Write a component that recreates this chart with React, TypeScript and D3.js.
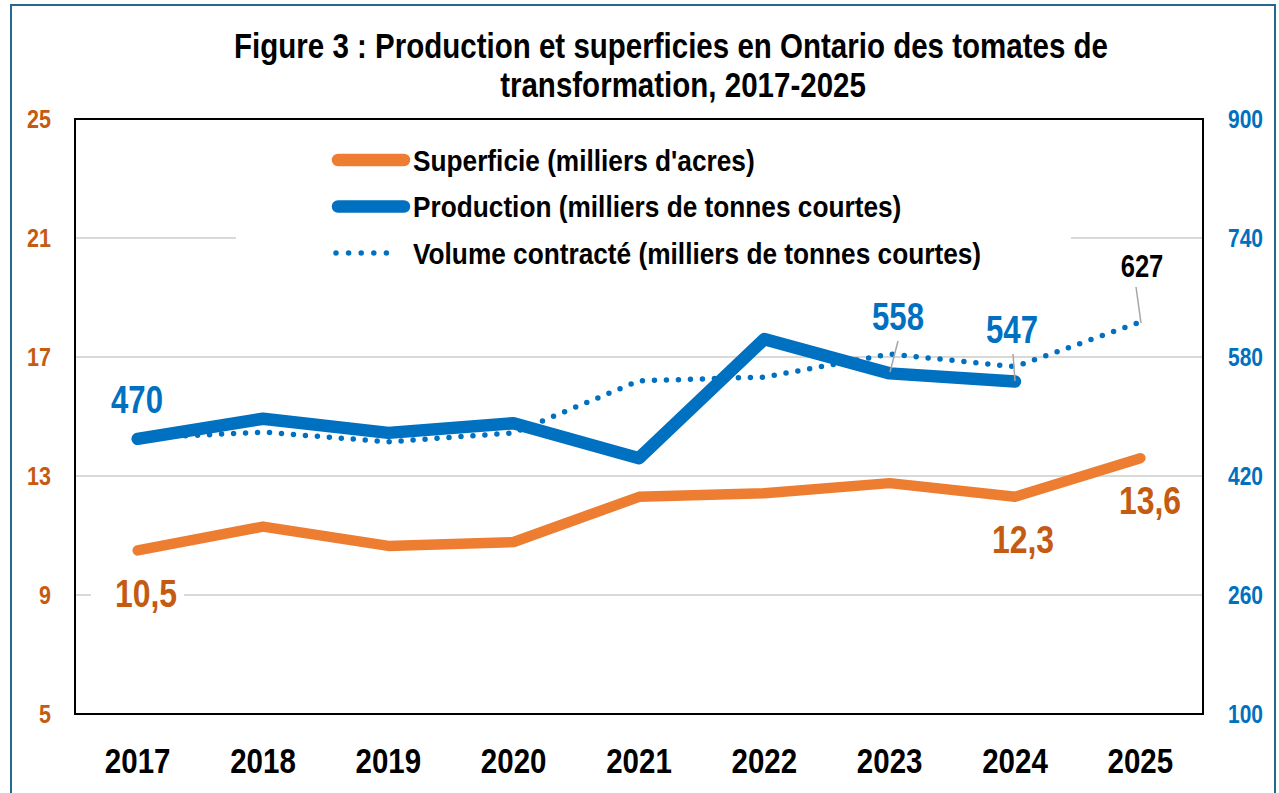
import { useEffect, useRef } from 'react';
import * as d3 from 'd3';

const years = ['2017', '2018', '2019', '2020', '2021', '2022', '2023', '2024', '2025'];
const superficie = [10.5, 11.3, 10.65, 10.78, 12.3, 12.42, 12.76, 12.3, 13.6];
const production = [470, 497, 478, 491, 444, 604, 558, 547];
const contracte = [471, 479, 466, 478, 548, 553, 584, 567, 627];
const leftTicks = [5, 9, 13, 17, 21, 25];
const rightTicks = [100, 260, 420, 580, 740, 900];

const FONT = "'Liberation Sans Narrow', 'Arial Narrow', 'Liberation Sans', Arial, sans-serif";
const ORANGE = '#ed7d31';
const ORANGE_TXT = '#c55a11';
const BLUE = '#0070c0';

export default function App() {
  const svgRef = useRef<SVGSVGElement>(null);

  useEffect(() => {
    const svg = d3.select(svgRef.current);
    svg.selectAll('*').remove();

    const left = 75, right = 1203, top = 119, bottom = 714;

    const x = d3.scaleBand().domain(years).range([left, right]);
    const cx = (d: string) => (x(d) as number) + x.bandwidth() / 2;
    const yL = d3.scaleLinear().domain([5, 25]).range([bottom, top]);
    const yR = d3.scaleLinear().domain([100, 900]).range([bottom, top]);

    // condensed bold text (the original uses a narrow face)
    const ct = (tx: number, ty: number, txt: string | number, size: number, sx: number,
      color: string, anchor = 'start', dy = '0') =>
      svg.append('text')
        .attr('transform', `translate(${tx},${ty}) scale(${sx},1)`)
        .attr('dy', dy)
        .attr('text-anchor', anchor)
        .attr('font-family', FONT).attr('font-weight', 'bold').attr('font-size', size)
        .attr('fill', color)
        .text(txt);

    // frame
    svg.append('rect')
      .attr('x', 11).attr('y', 5).attr('width', 1264).attr('height', 820)
      .attr('fill', 'white').attr('stroke', '#23698f').attr('stroke-width', 2);

    // title
    ct(671, 58, 'Figure 3 : Production et superficies en Ontario des tomates de', 36, 0.82, 'black', 'middle');
    ct(683, 97, 'transformation, 2017-2025', 36, 0.82, 'black', 'middle');

    // gridlines
    svg.append('g').selectAll('line').data(leftTicks.slice(1, -1)).enter()
      .append('line')
      .attr('x1', left).attr('x2', right)
      .attr('y1', d => yL(d)).attr('y2', d => yL(d))
      .attr('stroke', '#d9d9d9').attr('stroke-width', 2);

    // axis labels
    leftTicks.forEach(t => ct(51, yL(t), t, 25, 0.86, ORANGE_TXT, 'end', '0.36em'));
    rightTicks.forEach(t => ct(1228, yR(t), t, 25, 0.84, BLUE, 'start', '0.36em'));
    years.forEach(yr => ct(cx(yr), 773, yr, 36, 0.82, 'black', 'middle'));

    // legend (white box hides gridline)
    svg.append('rect').attr('x', 236).attr('y', 132).attr('width', 835).attr('height', 140).attr('fill', 'white');
    const legendItems = [
      { label: 'Superficie (milliers d\'acres)', color: ORANGE, dotted: false },
      { label: 'Production (milliers de tonnes courtes)', color: BLUE, dotted: false },
      { label: 'Volume contracté (milliers de tonnes courtes)', color: BLUE, dotted: true },
    ];
    legendItems.forEach((it, i) => {
      const yy = 160 + i * 46.5;
      const ln = svg.append('line')
        .attr('x1', it.dotted ? 336 : 338).attr('x2', it.dotted ? 399 : 404)
        .attr('y1', yy).attr('y2', yy)
        .attr('stroke', it.color).attr('stroke-linecap', 'round');
      if (it.dotted) ln.attr('stroke-width', 5.5).attr('stroke-dasharray', '0 12.6');
      else ln.attr('stroke-width', 12.5);
      ct(413, yy, it.label, 30, 0.875, 'black', 'start', '0.36em');
    });

    // lines
    const lineL = d3.line<number>().x((_, i) => cx(years[i])).y(d => yL(d));
    const lineR = d3.line<number>().x((_, i) => cx(years[i])).y(d => yR(d));

    svg.append('path').datum(contracte)
      .attr('d', lineR).attr('fill', 'none')
      .attr('stroke', BLUE).attr('stroke-width', 5.5)
      .attr('stroke-linecap', 'round').attr('stroke-dasharray', '0 12');

    svg.append('path').datum(production)
      .attr('d', lineR).attr('fill', 'none')
      .attr('stroke', BLUE).attr('stroke-width', 12.5)
      .attr('stroke-linecap', 'round').attr('stroke-linejoin', 'round');

    svg.append('path').datum(superficie)
      .attr('d', lineL).attr('fill', 'none')
      .attr('stroke', ORANGE).attr('stroke-width', 10.5)
      .attr('stroke-linecap', 'round').attr('stroke-linejoin', 'round');

    // plot border
    svg.append('rect')
      .attr('x', left).attr('y', top).attr('width', right - left).attr('height', bottom - top)
      .attr('fill', 'none').attr('stroke', 'black').attr('stroke-width', 2);

    // data labels
    const leader = (x1: number, y1: number, x2: number, y2: number) => {
      svg.append('line').attr('x1', x1).attr('y1', y1).attr('x2', x2).attr('y2', y2)
        .attr('stroke', '#a6a6a6').attr('stroke-width', 1.5);
    };
    const fmt = (v: number) => v.toFixed(1).replace('.', ',');

    svg.append('rect').attr('x', 91).attr('y', 572).attr('width', 93).attr('height', 42).attr('fill', 'white');
    ct(146, yL(superficie[0]) + 43, fmt(superficie[0]), 39, 0.82, ORANGE_TXT, 'middle', '0.36em');
    ct(1023, yL(superficie[7]) + 42, fmt(superficie[7]), 39, 0.82, ORANGE_TXT, 'middle', '0.36em');
    ct(1150, yL(superficie[8]) + 42, fmt(superficie[8]), 39, 0.82, ORANGE_TXT, 'middle', '0.36em');

    ct(137, yR(production[0]) - 39, production[0], 38, 0.82, BLUE, 'middle', '0.36em');
    leader(898, 341, 890, 372);
    ct(898, yR(production[6]) - 57, production[6], 38, 0.82, BLUE, 'middle', '0.36em');
    leader(1013, 354, 1015, 381);
    ct(1012, yR(production[7]) - 52, production[7], 38, 0.82, BLUE, 'middle', '0.36em');

    leader(1136, 287, 1141, 323);
    ct(1142, yR(contracte[8]) - 57, contracte[8], 32, 0.8, 'black', 'middle', '0.36em');
  }, []);

  return (
    <svg ref={svgRef} width={1279} height={793}
      style={{ position: 'absolute', left: 0, top: 0, background: 'white' }} />
  );
}
